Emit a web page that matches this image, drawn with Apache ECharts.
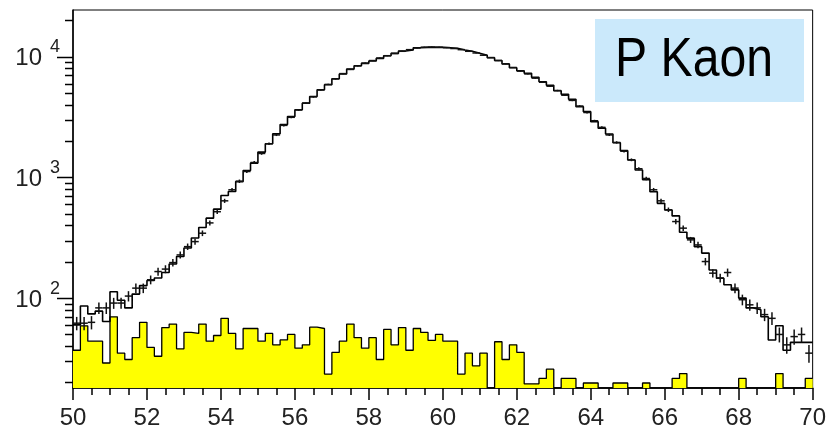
<!DOCTYPE html>
<html>
<head>
<meta charset="utf-8">
<script src="https://cdn.jsdelivr.net/npm/echarts@6/dist/echarts.min.js"></script>
<style>html,body{margin:0;padding:0;background:#fff}#c{width:829px;height:431px}</style>
</head>
<body>
<div id="c"></div>
<script>
// ---- data ----
const X_MIN = 50, X_MAX = 70, BIN_W = 0.2;
const Y_MIN = 18, Y_MAX = 24400;

// Monte-Carlo histogram (black step line), 100 bins of 0.2
const mcCounts = [
  60, 86, 74, 78, 64, 113, 96, 83, 108, 127,
  140, 147, 163, 192, 221, 260, 315, 385, 460, 546,
  708, 764, 924, 1143, 1315, 1622, 1901, 2300, 2746, 3200,
  3637, 4126, 4690, 5325, 5860, 6566, 7200, 7900, 8420, 8815,
  9210, 9700, 10190, 10670, 11150, 11360, 11870, 11970, 11970, 11970,
  11870, 11740, 11360, 11100, 10700, 10300, 9800, 9300, 8700, 8100,
  7660, 7290, 6750, 6210, 5800, 5230, 4890, 4445, 3860, 3510,
  2900, 2555, 2290, 1940, 1667, 1396, 1153, 960, 760, 610,
  538, 480, 351, 314, 267, 236, 171, 146, 129, 117,
  100, 83, 80, 70, 45, 59, 37, 43, 43, 43
];

// measured data (crosses with sqrt(N) error bars)
const dataCounts = [
  62, 62, 63, 83, 83, 91, 91, 104, 121, 121,
  142, 166, 174, 197, 228, 267, 294, 345, 420, 520,
  640, 790, 930, 1120, 1330, 1580, 1900, 2250, 2700, 3150,
  3620, 4120, 4650, 5300, 5900, 6550, 7250, 7850, 8400, 8850,
  9300, 9750, 10200, 10650, 11100, 11450, 11800, 12000, 12050, 12000,
  11900, 11700, 11450, 11100, 10750, 10300, 9850, 9300, 8750, 8150,
  7600, 7200, 6650, 6150, 5700, 5250, 4800, 4350, 3900, 3450,
  2950, 2600, 2250, 1950, 1650, 1400, 1180, 980, 790, 640,
  540, 431, 380, 304, 276, 201, 161, 147, 163, 121,
  97, 88, 83, 73, 68, 50, 41, 48, 50, 35
];

// background histogram (yellow), 0 = empty bin
const bkgCounts = [
  37, 59, 44, 44, 29, 70, 35, 31, 47, 63,
  39, 33, 57, 61, 38, 52, 51, 61, 44, 49,
  68, 51, 38, 56, 56, 44, 51, 41, 45, 50,
  38.5, 41, 57.5, 56, 23.5, 35.5, 44, 61, 47, 38.5,
  47, 31, 55, 41, 57, 37, 56, 52, 44.6, 50,
  44, 44, 23.5, 35, 27.5, 35, 0, 43.5, 31, 41,
  35.5, 19.5, 19.5, 21.6, 25.8, 0, 21.6, 21.6, 0, 19.8,
  19.8, 0, 0, 19.8, 19.8, 0, 0, 19.8, 0, 0,
  0, 21.6, 23.7, 0, 0, 0, 0, 0, 0, 0,
  21.6, 0, 0, 0, 0, 23.7, 0, 0, 0, 21.6
];

// y axis ticks / labels
const yMajorTicks = [100, 1000, 10000];
const yLabelBase = ['10', '10', '10'];
const yLabelExp = ['2', '3', '4'];
const yMinorTicks = [20,30,40,50,60,70,80,90,200,300,400,500,600,700,800,900,
                     2000,3000,4000,5000,6000,7000,8000,9000,20000];

// ---- build ----
function histPoints(vals) {
  const pts = [];
  vals.forEach((v, i) => {
    const lo = X_MIN + i * BIN_W, hi = lo + BIN_W;
    const y = v > 0 ? v : Y_MIN;
    pts.push([lo, y], [hi, y]);
  });
  return pts;
}
const crossData = dataCounts.map((v, i) => [X_MIN + (i + 0.5) * BIN_W, v]);
const tickData = yMajorTicks.map(v => [X_MIN, v, 1]).concat(yMinorTicks.map(v => [X_MIN, v, 0]));
const labelData = yMajorTicks.map((v, i) => [X_MIN, v, i]);

const FONT = 'Liberation Sans, Arial, sans-serif';
const chart = echarts.init(document.getElementById('c'), null, {renderer: 'canvas'});
chart.setOption({
  animation: false,
  backgroundColor: '#fff',
  grid: {left: 73, right: 16, top: 10, bottom: 43, show: true, borderColor: '#000', borderWidth: 1, backgroundColor: 'transparent'},
  xAxis: {
    type: 'value', min: X_MIN, max: X_MAX, interval: 2,
    axisLine: {show: true, lineStyle: {color: '#000', width: 1.5}},
    axisTick: {show: true, length: 12, lineStyle: {color: '#000', width: 1.5}},
    minorTick: {show: true, splitNumber: 4, length: 7, lineStyle: {color: '#000', width: 1.5}},
    axisLabel: {fontSize: 24, color: '#222', fontFamily: FONT, margin: 18},
    splitLine: {show: false}
  },
  yAxis: {
    type: 'log', logBase: 10, min: Y_MIN, max: Y_MAX,
    axisLine: {show: true, lineStyle: {color: '#000', width: 1.5}},
    axisTick: {show: false}, axisLabel: {show: false}, splitLine: {show: false}
  },
  series: [
    {
      type: 'line', data: histPoints(bkgCounts), symbol: 'none', z: 2,
      lineStyle: {color: '#000', width: 1.3},
      areaStyle: {color: '#ffff00', opacity: 1, origin: 'start'}
    },
    {
      type: 'line', data: histPoints(mcCounts), symbol: 'none', z: 3,
      lineStyle: {color: '#000', width: 1.6}
    },
    {
      type: 'custom', z: 4, data: crossData, encode: {x: 0, y: 1},
      renderItem: function (params, api) {
        const c = api.value(0), v = api.value(1), e = Math.sqrt(v);
        const l = api.coord([c - BIN_W / 2, v]), r = api.coord([c + BIN_W / 2, v]);
        const t = api.coord([c, v + e]), b = api.coord([c, Math.max(v - e, Y_MIN)]);
        const st = {stroke: '#111', lineWidth: 1.5};
        return {type: 'group', children: [
          {type: 'line', shape: {x1: l[0], y1: l[1], x2: r[0], y2: r[1]}, style: st},
          {type: 'line', shape: {x1: t[0], y1: t[1], x2: b[0], y2: b[1]}, style: st}
        ]};
      }
    },
    {
      type: 'custom', z: 5, clip: false, data: tickData, encode: {x: 0, y: 1}, silent: true,
      renderItem: function (params, api) {
        const p = api.coord([api.value(0), api.value(1)]);
        const len = api.value(2) ? 16 : 8;
        const y = Math.round(p[1]) + 0.5;
        return {type: 'line', shape: {x1: p[0] - len, y1: y, x2: p[0], y2: y}, style: {stroke: '#000', lineWidth: 1.5}};
      }
    },
    {
      type: 'custom', z: 5, clip: false, data: labelData, encode: {x: 0, y: 1}, silent: true,
      renderItem: function (params, api) {
        const p = api.coord([api.value(0), api.value(1)]);
        const i = api.value(2);
        return {type: 'group', children: [
          {type: 'text', x: 42, y: p[1] + 2, style: {text: yLabelBase[i], fontSize: 24, fontFamily: FONT, fill: '#222', align: 'right', verticalAlign: 'middle'}},
          {type: 'text', x: 50, y: p[1] - 9.5, style: {text: yLabelExp[i], fontSize: 18, fontFamily: FONT, fill: '#222', align: 'left', verticalAlign: 'middle'}}
        ]};
      }
    }
  ],
  graphic: [
    {type: 'rect', z: 100, shape: {x: 595, y: 19, width: 209, height: 83}, style: {fill: '#cbe9fb'}},
    {type: 'text', z: 101, x: 694, y: 61, scaleX: 0.86,
     style: {text: 'P Kaon', fontSize: 56, fontFamily: FONT, fill: '#000', align: 'center', verticalAlign: 'middle'}}
  ]
});
</script>
</body>
</html>
